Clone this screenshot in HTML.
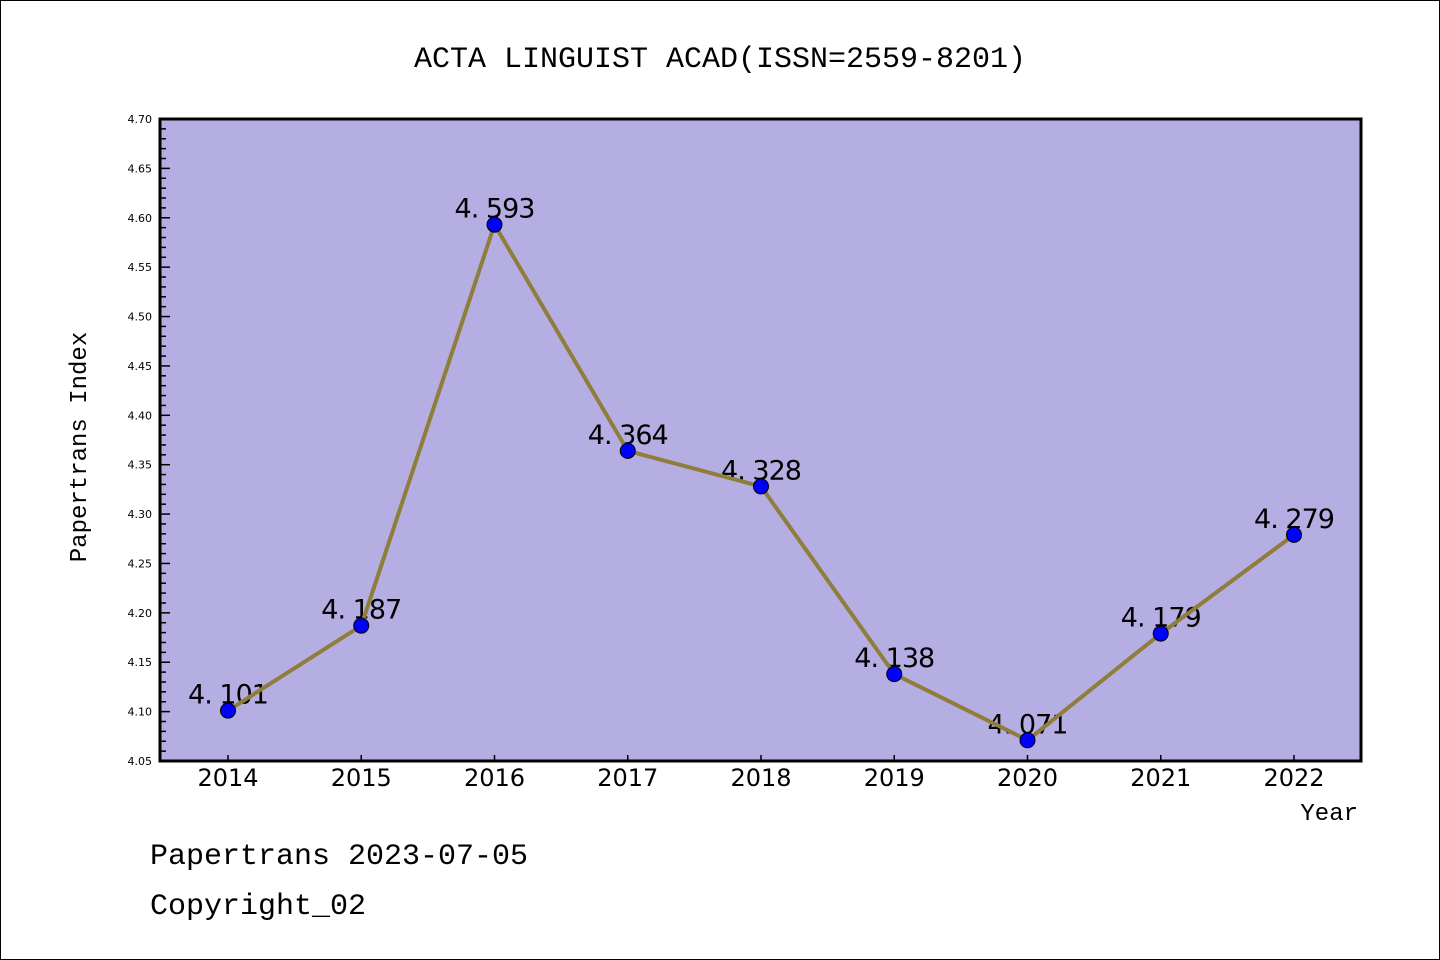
<!DOCTYPE html>
<html><head><meta charset="utf-8"><style>
body{margin:0;background:#fff;}
svg{display:block;font-family:"Liberation Mono","DejaVu Sans Mono",monospace;}
</style></head><body>
<svg width="1440" height="960">
<rect x="0.5" y="0.5" width="1439" height="959" fill="#fff" stroke="#000"/>
<text x="720" y="67" text-anchor="middle" font-size="30">ACTA LINGUIST ACAD(ISSN=2559-8201)</text>
<rect x="160" y="119" width="1201" height="642" fill="#b5aee2"/>
<g id="ticks"></g>
<g id="labels"></g>
<g id="series"></g>
<rect x="160" y="119" width="1201" height="642" fill="none" stroke="#000" stroke-width="3"/>
<text x="86" y="447" transform="rotate(-90 86 447)" text-anchor="middle" font-size="24">Papertrans Index</text>
<text x="1358" y="820" text-anchor="end" font-size="24">Year</text>
<text x="150" y="864" font-size="30">Papertrans 2023-07-05</text>
<text x="150" y="914" font-size="30">Copyright_02</text>
</svg>
<script>
const years=["2014","2015","2016","2017","2018","2019","2020","2021","2022"];
const values=[4.101,4.187,4.593,4.364,4.328,4.138,4.071,4.179,4.279];
const yTicks=["4.05","4.10","4.15","4.20","4.25","4.30","4.35","4.40","4.45","4.50","4.55","4.60","4.65","4.70"];
const NS="http://www.w3.org/2000/svg";
const yMin=4.05,yMax=4.70,plotTop=119,plotBot=761;
function ys(v){return plotBot-(v-yMin)/(yMax-yMin)*(plotBot-plotTop);}
function xs(i){return 228+i*133.25;}
function mk(t,a,p){const e=document.createElementNS(NS,t);for(const k in a)e.setAttribute(k,a[k]);p.appendChild(e);return e;}
const tg=document.getElementById('ticks'),lg=document.getElementById('labels'),sg=document.getElementById('series');
for(let k=0;k<=65;k++){const v=yMin+k*0.01;const y=ys(v);const major=k%5===0;
const l=mk('line',{x1:160,x2:160+(major?10:6),y1:y,y2:y,stroke:'#000','stroke-width':1.5},tg);

}
yTicks.forEach(s=>{const t=mk('text',{x:152,y:ys(parseFloat(s))+4,'text-anchor':'end','font-size':11,'font-family':'DejaVu Sans, sans-serif'},tg);t.textContent=s;

});
years.forEach((yr,i)=>{const l=mk('line',{x1:xs(i),x2:xs(i),y1:plotBot,y2:plotBot-6,stroke:'#000','stroke-width':1.5},tg);


const t=mk('text',{x:xs(i),y:786,'text-anchor':'middle','font-size':24,'font-family':'DejaVu Sans, sans-serif'},tg);t.textContent=yr;

});
values.forEach((v,i)=>{const t=mk('text',{x:xs(i),y:ys(v)-7,'text-anchor':'middle','font-size':27,'font-family':'DejaVu Sans, sans-serif','letter-spacing':'-1'},lg);t.textContent=v.toFixed(3).replace('.','. ');

});
const pl=mk('polyline',{points:values.map((v,i)=>xs(i)+','+ys(v)).join(' '),fill:'none',stroke:'#8f7d3c','stroke-width':4,'stroke-linejoin':'round'},sg);


values.forEach((v,i)=>{const c=mk('circle',{cx:xs(i),cy:ys(v),r:7.5,fill:'#0000ff',stroke:'#000','stroke-width':1},sg);

});
</script>
</body></html>
